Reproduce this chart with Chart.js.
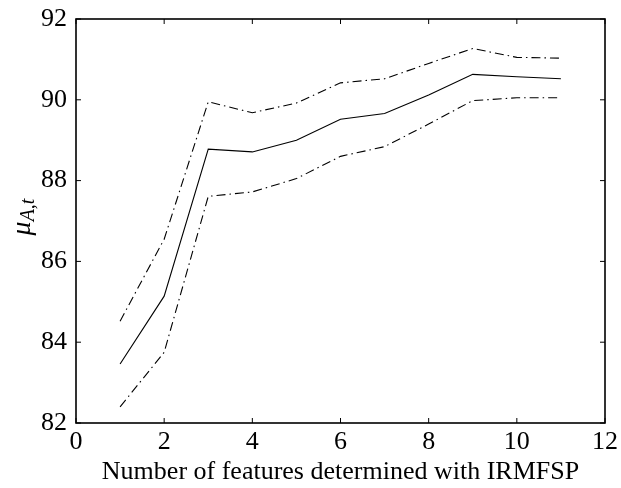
<!DOCTYPE html>
<html>
<head>
<meta charset="utf-8">
<script src="https://cdn.jsdelivr.net/npm/chart.js@4/dist/chart.umd.min.js"></script>
<style>
  html, body { margin: 0; padding: 0; background: #fff; }
  #wrap { width: 621px; height: 488px; }
</style>
</head>
<body>
<div id="wrap"><canvas id="c" width="621" height="488"></canvas></div>
<script>
// Data
const features = [1, 2, 3, 4, 5, 6, 7, 8, 9, 10, 11];
const meanAcc  = [83.46, 85.14, 88.78, 88.71, 89.0, 89.52, 89.66, 90.12, 90.63, 90.57, 90.52];
const upperAcc = [84.52, 86.55, 89.95, 89.68, 89.92, 90.42, 90.52, 90.9, 91.27, 91.05, 91.03];
const lowerAcc = [82.4, 83.75, 87.61, 87.72, 88.05, 88.6, 88.84, 89.4, 89.98, 90.05, 90.05];

const xTicks = [0, 2, 4, 6, 8, 10, 12];
const yTicks = [82, 84, 86, 88, 90, 92];

const FONT = 'Liberation Serif, Times New Roman, serif';
const pts = arr => features.map((x, i) => ({ x, y: arr[i] }));

// frame + inward ticks on all four sides, plus the y label
const frame = {
  id: 'frame',
  afterDraw(chart) {
    const { ctx, chartArea: a, scales: { x, y } } = chart;
    const tl = 5;
    ctx.save();
    ctx.strokeStyle = '#000';
    ctx.lineWidth = 1.6;
    ctx.strokeRect(a.left, a.top, a.right - a.left, a.bottom - a.top);
    ctx.lineWidth = 1;
    ctx.beginPath();
    xTicks.forEach(v => {
      const px = x.getPixelForValue(v);
      ctx.moveTo(px, a.bottom); ctx.lineTo(px, a.bottom - tl);
      ctx.moveTo(px, a.top);    ctx.lineTo(px, a.top + tl);
    });
    yTicks.forEach(v => {
      const py = y.getPixelForValue(v);
      ctx.moveTo(a.left, py);  ctx.lineTo(a.left + tl, py);
      ctx.moveTo(a.right, py); ctx.lineTo(a.right - tl, py);
    });
    ctx.stroke();

    // μ_{A,t}
    ctx.translate(26, (a.top + a.bottom) / 2 - 4);
    ctx.rotate(-Math.PI / 2);
    ctx.fillStyle = '#000';
    ctx.textBaseline = 'alphabetic';
    const mu = 'μ', sub = 'A,t';
    ctx.font = 'italic 28px ' + FONT;
    const wMu = ctx.measureText(mu).width;
    ctx.font = 'italic 20px ' + FONT;
    const wSub = ctx.measureText(sub).width;
    const x0 = -(wMu + wSub) / 2;
    ctx.font = 'italic 28px ' + FONT;
    ctx.fillText(mu, x0, 4);
    ctx.font = 'italic 20px ' + FONT;
    ctx.fillText(sub, x0 + wMu, 8);
    ctx.restore();
  }
};

const lineDS = (data, dash) => ({
  data: pts(data),
  borderColor: '#000',
  borderWidth: 1.1,
  borderDash: dash,
  pointRadius: 0,
  fill: false,
  tension: 0,
});

new Chart(document.getElementById('c'), {
  type: 'line',
  data: {
    datasets: [
      lineDS(upperAcc, [9, 4, 1.5, 4]),
      lineDS(meanAcc, []),
      lineDS(lowerAcc, [9, 4, 1.5, 4]),
    ],
  },
  options: {
    responsive: false,
    animation: false,
    events: [],
    layout: { padding: { top: 19, right: 16, left: 0, bottom: 0 } },
    plugins: { legend: { display: false }, tooltip: { enabled: false } },
    scales: {
      x: {
        type: 'linear', min: 0, max: 12,
        afterBuildTicks: s => { s.ticks = xTicks.map(v => ({ value: v })); },
        afterFit: s => { s.height = 65; s.paddingLeft = 0; s.paddingRight = 0; },
        grid: { display: false, drawTicks: false },
        border: { display: false },
        ticks: { color: '#000', font: { family: FONT, size: 26 }, padding: 4, maxRotation: 0 },
        title: { display: true, text: 'Number of features determined with IRMFSP', color: '#000',
                 font: { family: FONT, size: 26 }, padding: { top: 0, bottom: 0 } },
      },
      y: {
        type: 'linear', min: 82, max: 92,
        afterBuildTicks: s => { s.ticks = yTicks.map(v => ({ value: v })); },
        afterFit: s => { s.width = 76; s.paddingTop = 0; s.paddingBottom = 0; },
        grid: { display: false, drawTicks: false },
        border: { display: false },
        ticks: { color: '#000', font: { family: FONT, size: 26 }, padding: 9 },
      },
    },
  },
  plugins: [frame],
});
</script>
</body>
</html>
